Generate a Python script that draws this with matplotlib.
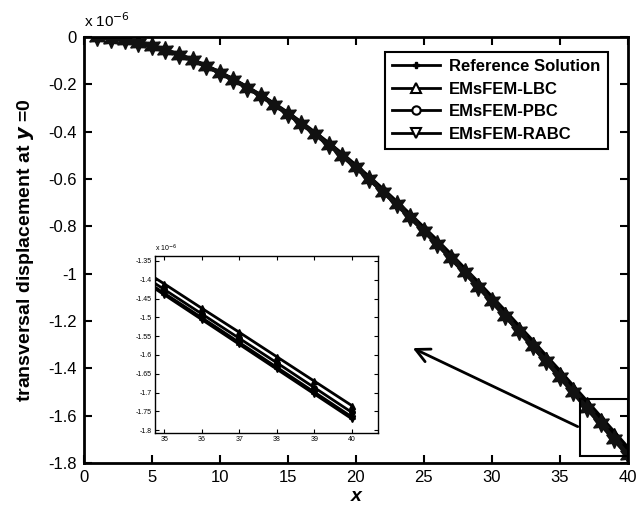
import matplotlib
matplotlib.use("Agg")
import matplotlib.pyplot as plt
from matplotlib.patches import Rectangle
from matplotlib.lines import Line2D

plt.rcParams['font.family'] = ['Liberation Sans', 'DejaVu Sans']

x = list(range(1, 41))
ref = [-0.002, -0.007, -0.015, -0.026, -0.040, -0.057, -0.076, -0.099, -0.124, -0.152,
       -0.182, -0.214, -0.249, -0.287, -0.326, -0.367, -0.411, -0.456, -0.503, -0.552,
       -0.602, -0.654, -0.708, -0.763, -0.819, -0.876, -0.935, -0.995, -1.055, -1.117,
       -1.179, -1.243, -1.306, -1.371, -1.436, -1.501, -1.567, -1.633, -1.699, -1.765]
lbc = [-0.002, -0.006, -0.014, -0.025, -0.039, -0.056, -0.075, -0.097, -0.122, -0.149,
       -0.179, -0.211, -0.245, -0.282, -0.320, -0.361, -0.404, -0.448, -0.494, -0.542,
       -0.592, -0.643, -0.696, -0.750, -0.805, -0.861, -0.919, -0.978, -1.037, -1.098,
       -1.159, -1.222, -1.284, -1.348, -1.411, -1.476, -1.540, -1.605, -1.670, -1.735]
pbc = [-0.002, -0.006, -0.014, -0.025, -0.039, -0.056, -0.076, -0.098, -0.123, -0.151,
       -0.181, -0.213, -0.248, -0.284, -0.324, -0.365, -0.408, -0.453, -0.499, -0.548,
       -0.598, -0.649, -0.703, -0.757, -0.813, -0.870, -0.928, -0.988, -1.048, -1.109,
       -1.171, -1.234, -1.297, -1.361, -1.426, -1.491, -1.556, -1.621, -1.687, -1.753]
rabc = [-0.002, -0.007, -0.015, -0.026, -0.040, -0.057, -0.077, -0.099, -0.124, -0.152,
        -0.182, -0.215, -0.250, -0.287, -0.327, -0.368, -0.412, -0.457, -0.504, -0.553,
        -0.604, -0.656, -0.710, -0.765, -0.821, -0.879, -0.938, -0.998, -1.058, -1.120,
        -1.183, -1.246, -1.310, -1.375, -1.440, -1.506, -1.572, -1.638, -1.704, -1.770]

names = ['Reference Solution', 'EMsFEM-LBC', 'EMsFEM-PBC', 'EMsFEM-RABC']
star = (6, 1, 0)

fig = plt.figure(figsize=(6.4, 5.12), dpi=100)
ax = fig.add_axes([0.131, 0.096, 0.850, 0.832])

# other methods drawn first, reference stars on top
ax.plot(x, lbc, '-^', color='k', lw=2.5, ms=6)
ax.plot(x, pbc, '-o', color='k', lw=2.5, ms=5)
ax.plot(x, rabc, '-v', color='k', lw=2.5, ms=6)
ax.plot(x, ref, '-', marker=star, color='#111111', lw=3, ms=13, mew=1)

ax.set_xlim(0, 40)
ax.set_ylim(-1.8, 0)
ax.set_xticks([0, 5, 10, 15, 20, 25, 30, 35, 40])
ax.set_yticks([0, -0.2, -0.4, -0.6, -0.8, -1, -1.2, -1.4, -1.6, -1.8])
ax.set_yticklabels(['0', '-0.2', '-0.4', '-0.6', '-0.8', '-1', '-1.2', '-1.4', '-1.6', '-1.8'])
ax.tick_params(direction='in', top=True, right=True, labelsize=12, length=6, width=1.5, pad=5)
for s in ax.spines.values():
    s.set_linewidth(2)
ax.set_xlabel('x', fontsize=14, fontweight='bold', fontstyle='italic', labelpad=2)
ax.set_ylabel('transversal displacement at $\\boldsymbol{y}$ =0', fontsize=14, fontweight='bold', labelpad=9)
ax.text(0.0, 1.015, 'x 10$^{-6}$', transform=ax.transAxes, fontsize=11, va='bottom')

# legend with small markers like the original
handles = [Line2D([], [], color='k', lw=2, marker='P', ms=5),
           Line2D([], [], color='k', lw=2, marker='^', ms=7, mfc='w', mew=1.5),
           Line2D([], [], color='k', lw=2, marker='o', ms=6, mfc='w', mew=1.5),
           Line2D([], [], color='k', lw=2, marker='v', ms=7, mfc='w', mew=1.5)]
leg = ax.legend(handles, names, loc='upper right', bbox_to_anchor=(0.978, 0.985),
                fancybox=False, edgecolor='k', framealpha=1, handlelength=2.9,
                handletextpad=0.5, prop={'weight': 'bold', 'size': 12},
                borderpad=0.45, labelspacing=0.45)
leg.get_frame().set_linewidth(1.5)

# zoom box and arrow
ax.add_patch(Rectangle((36.5, -1.77), 3.5, 0.24, fill=False, ec='k', lw=1.5, zorder=5))
ax.annotate('', xy=(24.0, -1.31), xytext=(36.5, -1.652),
            arrowprops=dict(arrowstyle='->', color='k', lw=2, mutation_scale=25))

# inset
ins = fig.add_axes([0.242, 0.154, 0.349, 0.346])
ins.plot(x, lbc, '-^', color='k', lw=2, ms=4)
ins.plot(x, pbc, '-o', color='k', lw=2, ms=4)
ins.plot(x, ref, '-', marker=star, color='k', lw=2, ms=5)
ins.plot(x, rabc, '-v', color='k', lw=2, ms=4)
ins.set_xlim(34.75, 40.7)
ins.set_ylim(-1.808, -1.337)
ins.set_xticks([35, 36, 37, 38, 39, 40])
ins.set_yticks([-1.35, -1.4, -1.45, -1.5, -1.55, -1.6, -1.65, -1.7, -1.75, -1.8])
ins.set_yticklabels(['-1.35', '-1.4', '-1.45', '-1.5', '-1.55', '-1.6', '-1.65', '-1.7', '-1.75', '-1.8'])
ins.tick_params(direction='in', top=True, right=True, labelsize=5, length=3, pad=2)
for s in ins.spines.values():
    s.set_linewidth(1)
ins.text(0.0, 1.01, 'x 10$^{-6}$', transform=ins.transAxes, fontsize=5, va='bottom')

fig.savefig('out.png', dpi=100)
